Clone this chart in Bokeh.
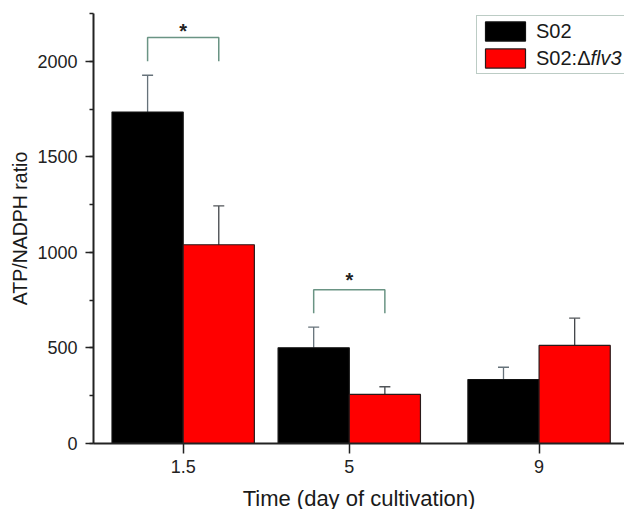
from bokeh.plotting import figure
from bokeh.models import (ColumnDataSource, Whisker, TeeHead, FixedTicker, SingleIntervalTicker,
                          Legend, LegendItem, Label)
from bokeh.core.properties import value
from bokeh.embed import file_html
from bokeh.resources import INLINE

# ---- data ----
days = [1.5, 5, 9]
day_labels = ["1.5", "5", "9"]
s02 = [1734, 501, 335]
s02_err = [193, 108, 64]
flv3 = [1040, 257, 513]
flv3_err = [203, 40, 143]
series_names = ["S02", "S02:Δ", "flv3"]

# significance brackets (day, bracket top, leg bottom, star height)
sig_days = [1.5, 5]
sig_top = [2125, 805]
sig_leg = [2000, 682]
sig_star = [2160, 858]

FONT = "Liberation Sans"
bw = 1.5

p = figure(frame_width=531, frame_height=430, x_range=(-0.39, 10.8), y_range=(0, 2250),
           output_backend="svg", toolbar_location=None,
           min_border_left=93, min_border_right=0, min_border_top=13, min_border_bottom=66)
p.outline_line_color = None
p.xgrid.visible = False
p.ygrid.visible = False
p.background_fill_color = "white"
p.border_fill_color = "white"

xb = [d - bw / 2 for d in days]
xr = [d + bw / 2 for d in days]

src_b = ColumnDataSource(dict(x=xb, top=s02, lo=s02, up=[v + e for v, e in zip(s02, s02_err)]))
src_r = ColumnDataSource(dict(x=xr, top=flv3, lo=[v - e for v, e in zip(flv3, flv3_err)],
                              up=[v + e for v, e in zip(flv3, flv3_err)]))

rb = p.vbar(x="x", top="top", width=bw, source=src_b, fill_color="black", line_color="#111111", line_width=1.2)
rr = p.vbar(x="x", top="top", width=bw, source=src_r, fill_color="#ff0000", line_color="#2a1a1a", line_width=1.2)

err_col = "#66727a"
wb = Whisker(base="x", upper="up", lower="lo", source=src_b, line_color=err_col, line_width=1.3,
             upper_head=TeeHead(size=11, line_color=err_col, line_width=1.3), lower_head=None)
wr = Whisker(base="x", upper="up", lower="lo", source=src_r, line_color="#404448", line_width=1.3,
             upper_head=TeeHead(size=11, line_color="#505458", line_width=1.3),
             lower_head=TeeHead(size=11, line_color="#303030", line_width=1.3))
p.add_layout(wb)
p.add_layout(wr)

# significance brackets
br_col = "#6a9484"
xs_list, ys_list = [], []
for d, t, l in zip(sig_days, sig_top, sig_leg):
    xs_list.append([d - bw / 2, d - bw / 2, d + bw / 2, d + bw / 2])
    ys_list.append([l, t, t, l])
p.multi_line(xs=xs_list, ys=ys_list, line_color=br_col, line_width=1.5)
p.text(x=sig_days, y=sig_star, text=["*"] * len(sig_days), text_font=value(FONT),
       text_font_size="20px", text_font_style="bold", text_align="center",
       text_baseline="middle", text_color="#222222")

# axes
ax_col = "#222222"
for ax in (p.xaxis[0], p.yaxis[0]):
    ax.axis_line_color = ax_col
    ax.axis_line_width = 2
    ax.major_tick_line_color = ax_col
    ax.major_tick_line_width = 1.5
    ax.minor_tick_line_color = ax_col
    ax.minor_tick_line_width = 1.5
    ax.major_label_text_font = FONT
    ax.major_label_text_font_size = "18px"
    ax.major_label_text_color = "#222222"
    ax.axis_label_text_font = FONT
    ax.axis_label_text_font_style = "normal"
    ax.axis_label_text_color = "#1a1a1a"

p.xaxis.ticker = FixedTicker(ticks=days, minor_ticks=[])
p.xaxis.major_label_overrides = {d: lab for d, lab in zip(days, day_labels)}
p.xaxis.major_tick_in = 0
p.xaxis.major_tick_out = 10
p.xaxis.major_label_standoff = 6
p.xaxis.axis_label = "Time (day of cultivation)"
p.xaxis.axis_label_text_font_size = "22px"
p.xaxis.axis_label_standoff = 10

p.yaxis.ticker = SingleIntervalTicker(interval=500, num_minor_ticks=2)
p.yaxis.major_tick_in = 0
p.yaxis.major_tick_out = 8
p.yaxis.minor_tick_in = 0
p.yaxis.minor_tick_out = 4
p.yaxis.major_label_standoff = 8
p.yaxis.axis_label = "ATP/NADPH ratio"
p.yaxis.axis_label_text_font_size = "19.5px"
p.yaxis.axis_label_standoff = 3

legend = Legend(items=[LegendItem(label=series_names[0], renderers=[rb]),
                       LegendItem(label=series_names[1], renderers=[rr])],
                location=(383, 369), margin=0, padding=3, spacing=3,
                glyph_width=50, glyph_height=24, label_standoff=6,
                label_text_font=FONT, label_text_font_size="20px", label_text_color="#1a1a1a",
                label_height=24, label_width=140,
                border_line_color="#7a9a8c", border_line_width=1.5,
                background_fill_color="white", background_fill_alpha=0.0)
p.add_layout(legend)

p.add_layout(Label(x=497, y=386, x_units="screen", y_units="screen", text=series_names[2],
                   text_font=FONT, text_font_style="italic", text_font_size="20px",
                   text_color="#1a1a1a", text_baseline="middle", level="overlay"))

open("out.html", "w").write(file_html(p, INLINE))
